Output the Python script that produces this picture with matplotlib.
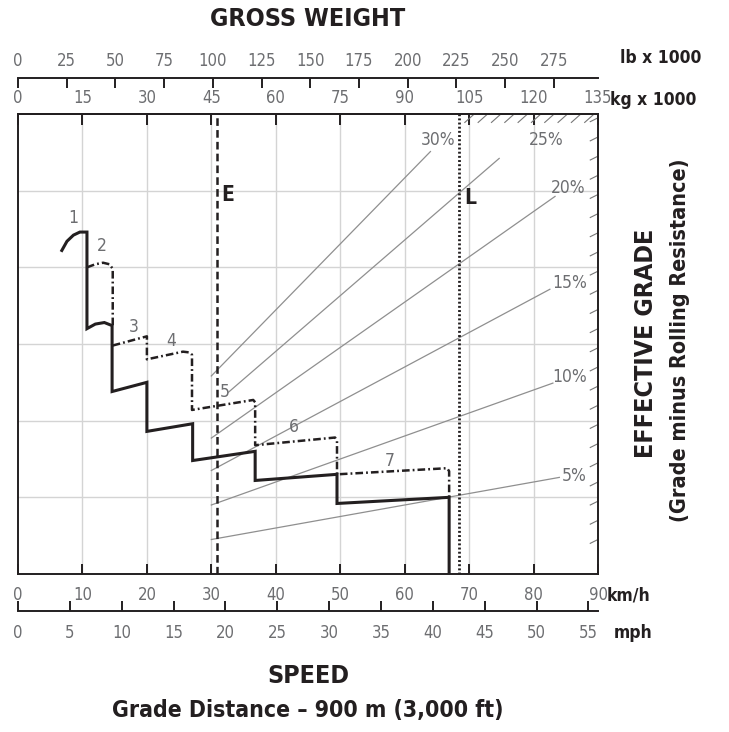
import os
import matplotlib
matplotlib.use("Agg")
import matplotlib.pyplot as plt
from matplotlib import font_manager as fm
import numpy as np

plt.rcParams['lines.scale_dashes'] = False

# dados (velocidade em km/h, eixo vertical em t = rampa x peso)
solid_kmh = [6.8, 7.6, 8.6, 9.6, 10.7, 10.7, 12.0, 13.4, 14.6, 14.6, 20.0, 20.0,
             27.1, 27.1, 36.8, 36.8, 49.5, 49.5, 66.9, 66.9]
solid_t = [21.1, 21.7, 22.1, 22.3, 22.3, 16.0, 16.3, 16.4, 16.2, 11.9, 12.5, 9.3,
           9.8, 7.4, 8.0, 6.1, 6.5, 4.6, 5.0, 0.0]

dashdot_kmh = [10.7, 12.0, 13.2, 14.2, 14.7, 14.7, np.nan,
               14.7, 20.0, 20.0, 25.6, 26.6, 27.0, 27.0, 36.5, 36.8, 36.8,
               49.2, 49.5, 49.5, 66.6, 66.9, 66.9]
dashdot_t = [20.0, 20.2, 20.3, 20.2, 19.9, 16.2, np.nan,
             14.9, 15.5, 14.0, 14.5, 14.45, 14.3, 10.7, 11.35, 11.2, 8.4,
             8.9, 8.7, 6.5, 6.9, 6.7, 5.0]

gear_names = ['1', '2', '3', '4', '5', '6', '7']
gear_label_kmh = [8.5, 13.0, 18.0, 23.7, 32.1, 42.8, 57.7]
gear_label_t = [23.2, 21.4, 16.1, 15.2, 11.9, 9.6, 7.4]

grade_names = ['5%', '10%', '15%', '20%', '25%', '30%']
grade_line_pct = [5.0, 10.0, 15.0, 19.7, 24.2, 28.7]   # inclinacao como desenhada
grade_start_kg = [45, 45, 45, 45, 49, 45]
grade_end_kg = [126, 124.5, 123.8, 125, 112, 96]
grade_label_kg = [129.5, 128.5, 128.3, 128, 122.9, 97.8]
grade_label_t = [6.4, 12.85, 19.0, 25.2, 28.3, 28.3]

e_speed = 30.9
l_speed = 68.4

kmh_ticks = list(range(0, 91, 10))
mph_ticks = list(range(0, 56, 5))
kg_ticks = list(range(0, 136, 15))
lb_ticks = list(range(0, 276, 25))

KG_PER_KMH = 1.5
LB_PER_KG = 2.20462
KMH_PER_MPH = 1.609344

dark = '#231f20'
gray = '#6d6e71'


# procura uma fonte condensada entre as instaladas
def find_font(names):
    paths = {os.path.basename(f.fname): f.fname for f in fm.fontManager.ttflist}
    for n in names:
        if n in paths:
            return paths[n]
    return None


bold_path = find_font(['NotoSans-CondensedBold.ttf', 'LiberationSansNarrow-Bold.ttf',
                       'DejaVuSansCondensed-Bold.ttf', 'OpenSans_Condensed-Bold.ttf'])
light_path = find_font(['NotoSans-CondensedLight.ttf', 'NotoSans-Condensed.ttf',
                        'LiberationSansNarrow-Regular.ttf', 'DejaVuSansCondensed.ttf'])


def make_fp(path, size, weight='normal'):
    if path:
        return fm.FontProperties(fname=path, size=size)
    return fm.FontProperties(family='DejaVu Sans', weight=weight, size=size)


def fp_bold(size):
    return make_fp(bold_path, size, 'bold')


def fp_light(size):
    return make_fp(light_path, size)


fig = plt.figure(figsize=(7.29, 7.32), dpi=100)
W, H = 729, 732
ax = fig.add_axes([18 / W, 1 - 574 / H, 580 / W, 460 / H])
ax.set_xlim(0, 90)
ax.set_ylim(0, 30)

# grade
for v in range(10, 90, 10):
    ax.axvline(v, color='#d4d4d4', lw=1, zorder=0)
for v in range(5, 30, 5):
    ax.axhline(v, color='#d4d4d4', lw=1, zorder=0)

# linhas de rampa efetiva
for name, g, k0, k1, lk, lt in zip(grade_names, grade_line_pct, grade_start_kg, grade_end_kg,
                                   grade_label_kg, grade_label_t):
    kg = np.array([k0, k1])
    ax.plot(kg / KG_PER_KMH, g / 100 * kg, color='#8f8f8f', lw=0.9, zorder=1)
    ax.text(lk / KG_PER_KMH, lt, name, ha='center', va='center', color=gray,
            fontproperties=fp_light(12.5))

# limites E e L
ax.axvline(e_speed, color=dark, lw=1.8, dashes=(5.5, 3), zorder=2)
ax.axvline(l_speed, color=dark, lw=2.0, dashes=(1.4, 1.6), zorder=2)
ax.text(e_speed + 1.7, 24.7, 'E', color=dark, ha='center', va='center',
        fontproperties=fp_bold(15))
ax.text(l_speed + 1.7, 24.5, 'L', color=dark, ha='center', va='center',
        fontproperties=fp_bold(15))

# curvas do retardador
ax.plot(solid_kmh, solid_t, color=dark, lw=2.2, zorder=4, solid_joinstyle='miter')
ax.plot(dashdot_kmh, dashdot_t, color=dark, lw=1.8, dashes=(5.5, 2.2, 1.3, 2.2), zorder=3)
for name, x, y in zip(gear_names, gear_label_kmh, gear_label_t):
    ax.text(x, y, name, color=gray, ha='center', va='center', fontproperties=fp_light(12.5))

# hachuras no topo e na direita
for kg in np.arange(104, 135, 3.1):
    ax.plot([kg / KG_PER_KMH, (kg + 2.2) / KG_PER_KMH], [29.45, 30], color='#777777', lw=0.8,
            clip_on=False, zorder=2)
for t in np.arange(29.7, 1.0, -1.25):
    ax.plot([88.8, 90], [t - 0.2, t + 0.05], color='#777777', lw=0.8, clip_on=False, zorder=2)

# eixos
for s in ax.spines.values():
    s.set_color(dark)
    s.set_linewidth(1.4)
ax.set_yticks([])
ax.set_xticks(kmh_ticks)
ax.tick_params(axis='x', direction='in', length=7, width=1.4, color=dark, pad=9,
               labelcolor=gray)

kg_ax = ax.secondary_xaxis('top', functions=(lambda x: x * KG_PER_KMH, lambda x: x / KG_PER_KMH))
kg_ax.set_xticks(kg_ticks)
kg_ax.tick_params(direction='in', length=8, width=1.4, color=dark, pad=5, labelcolor=gray)

lb_ax = ax.secondary_xaxis(1 + (114 - 78) / 460,
                           functions=(lambda x: x * KG_PER_KMH * LB_PER_KG,
                                      lambda x: x / (KG_PER_KMH * LB_PER_KG)))
lb_ax.set_xticks(lb_ticks)
lb_ax.tick_params(direction='in', length=7, width=1.4, color=dark, pad=6, labelcolor=gray)

mph_ax = ax.secondary_xaxis(-(611 - 574) / 460,
                            functions=(lambda x: x / KMH_PER_MPH, lambda x: x * KMH_PER_MPH))
mph_ax.set_xticks(mph_ticks)
mph_ax.tick_params(direction='in', length=7, width=1.4, color=dark, pad=9, labelcolor=gray)

for lab in ax.get_xticklabels():
    lab.set_fontproperties(fp_light(12))
for a in (kg_ax, lb_ax, mph_ax):
    for s in a.spines.values():
        s.set_color(dark)
        s.set_linewidth(1.4)
    for lab in a.get_xticklabels():
        lab.set_fontproperties(fp_light(12))


# textos
def ftext(px, py, s, fp, **kw):
    fig.text(px / W, 1 - py / H, s, color=dark, fontproperties=fp, **kw)


ftext(308, 19, 'GROSS WEIGHT', fp_bold(18), ha='center', va='center')
ftext(308, 676, 'SPEED', fp_bold(18), ha='center', va='center')
ftext(308, 711, 'Grade Distance – 900 m (3,000 ft)', fp_bold(16.5), ha='center', va='center')
ftext(620, 58, 'lb x 1000', fp_bold(12.5), ha='left', va='center')
ftext(610, 100, 'kg x 1000', fp_bold(12.5), ha='left', va='center')
ftext(607, 596, 'km/h', fp_bold(12.5), ha='left', va='center')
ftext(614, 633, 'mph', fp_bold(12.5), ha='left', va='center')
ftext(646, 343, 'EFFECTIVE GRADE', fp_bold(18), ha='center', va='center', rotation=90)
ftext(680, 340, '(Grade minus Rolling Resistance)', fp_bold(15.5), ha='center', va='center',
      rotation=90)

fig.savefig('out.png', dpi=100, facecolor='white')
